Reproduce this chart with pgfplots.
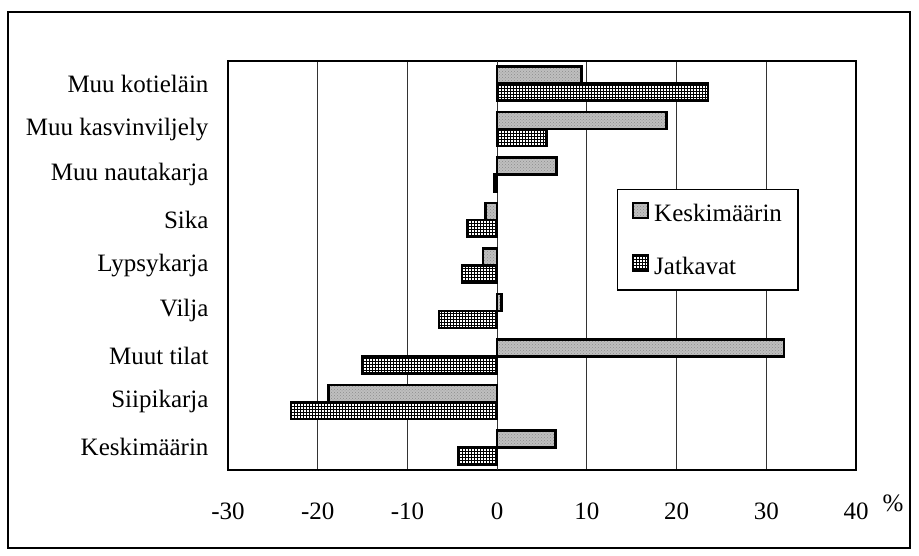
\documentclass[border=0pt]{standalone}
\usepackage{fontspec}
\setmainfont{Liberation Serif}
\usepackage{pgfplots}
\pgfplotsset{compat=1.18}
\usetikzlibrary{patterns}
\begin{document}
\begin{tikzpicture}[font=\fontsize{25}{30}\selectfont]
\path[use as bounding box] (0,0) rectangle (919pt,556pt);
\draw[line width=2pt] (8pt,8pt) rectangle (910pt,544pt);
\begin{axis}[
  at={(228pt,86pt)}, anchor=south west,
  width=628pt, height=409pt, scale only axis,
  xbar, bar width=17pt,
  xmin=-30, xmax=40, ymin=-0.5, ymax=8.5,
  xtick={-30,-20,...,40},
  ytick={0,...,8},
  yticklabels={Keskimäärin, Siipikarja, Muut tilat, Vilja, Lypsykarja, Sika, Muu nautakarja, Muu kasvinviljely, Muu kotieläin},
  xmajorgrids,
  major grid style={black!80, line width=1pt},
  axis line style={line width=2pt},
  major tick length=0pt,
  /pgf/number format/assume math mode=true,
  xticklabel style={yshift=-29pt},
  yticklabel style={xshift=-16pt},
  extra x ticks={0}, extra x tick labels={},
  extra x tick style={grid style={black, line width=3pt}},
  xlabel={\%},
  xlabel style={at={(rel axis cs:1,0)}, anchor=center, xshift=37pt, yshift=-33pt},
  legend style={at={(rel axis cs:0.6194,0.7164)}, anchor=north west, yshift=-12pt,
    draw=black, line width=1.5pt, inner xsep=14pt, inner ysep=12pt, row sep=29pt,
    font=\fontsize{25}{30}\selectfont},
  legend cell align=left,
  legend image code/.code={\draw[#1] (0pt,-4pt) rectangle (15pt,11pt); \path (18pt,0pt);},
]
\addplot[bar shift=8.5pt, draw=black, line width=2.5pt, fill=black!25,
  postaction={pattern=crosshatch dots, pattern color=black!45}]
  coordinates {(6.5,0) (-18.8,1) (32.0,2) (0.5,3) (-1.6,4) (-1.3,5) (6.6,6) (18.9,7) (9.4,8)};
\addlegendentry{Keskimäärin}
\addplot[bar shift=-8.5pt, draw=black, line width=2.5pt, fill=white,
  postaction={pattern=grid, pattern color=black}]
  coordinates {(-4.3,0) (-23.0,1) (-15.0,2) (-6.5,3) (-3.9,4) (-3.3,5) (-0.3,6) (5.5,7) (23.5,8)};
\addlegendentry{Jatkavat}
\end{axis}
\end{tikzpicture}
\end{document}
